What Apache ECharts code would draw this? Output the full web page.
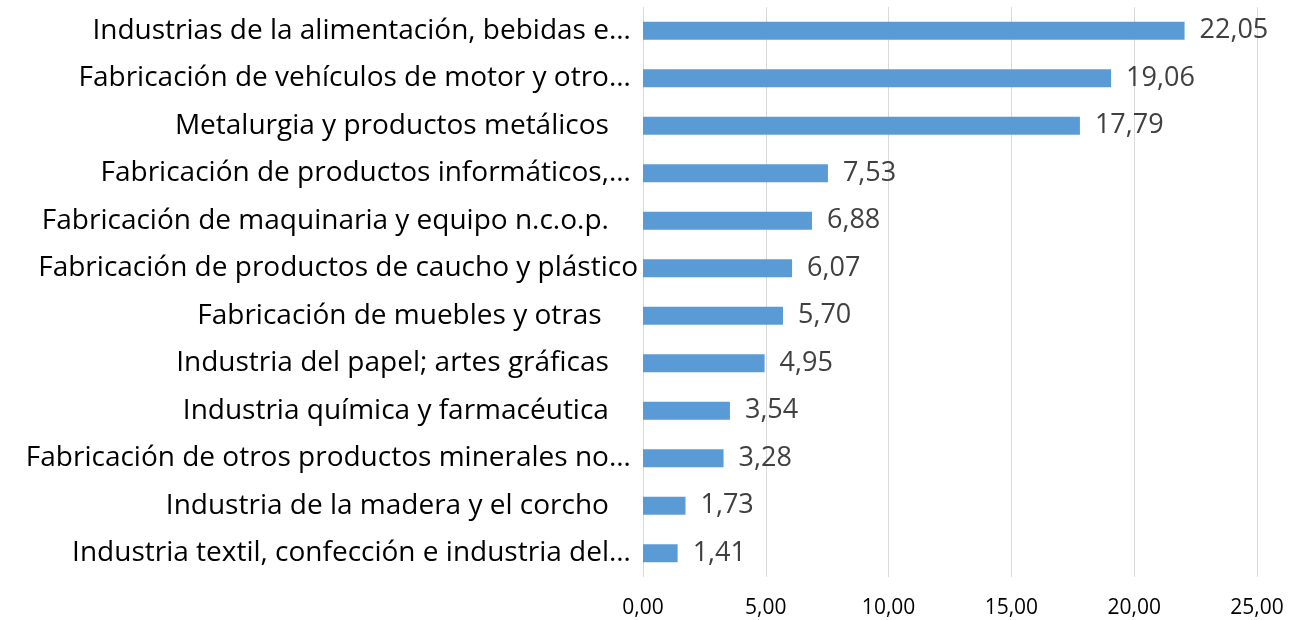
<!DOCTYPE html>
<html>
<head>
<meta charset="utf-8">
<script src="https://cdn.jsdelivr.net/npm/echarts@6/dist/echarts.min.js"></script>
<style>
  html, body { margin: 0; padding: 0; background: #fff; }
  #container { width: 1289px; height: 620px; }
</style>
</head>
<body>
<div id="container"></div>
<script>
// categorias (tal como aparecen, truncadas; los espacios finales imitan la alineacion original)
var sectores = [
    'Industrias de la alimentación, bebidas e… ',
    'Fabricación de vehículos de motor y otro… ',
    'Metalurgia y productos metálicos    ',
    'Fabricación de productos informáticos,… ',
    'Fabricación de maquinaria y equipo n.c.o.p.    ',
    'Fabricación de productos de caucho y plástico',
    'Fabricación de muebles y otras     ',
    'Industria del papel; artes gráficas    ',
    'Industria química y farmacéutica    ',
    'Fabricación de otros productos minerales no… ',
    'Industria de la madera y el corcho    ',
    'Industria textil, confección e industria del… '
];
// valores
var valores = [22.05, 19.06, 17.79, 7.53, 6.88, 6.07, 5.70, 4.95, 3.54, 3.28, 1.73, 1.41];
// marcas del eje
var ejeMin = 0, ejeMax = 25, ejePaso = 5;

function coma(v, d) {
    return Number(v).toFixed(d).replace('.', ',');
}

var dom = document.getElementById('container');
var myChart = echarts.init(dom);
var fuente = "'Open Sans', 'Noto Sans', sans-serif";
var option = {
    animation: false,
    grid: { left: 643, right: 32, top: 7, bottom: 43, containLabel: false },
    xAxis: {
        type: 'value',
        min: ejeMin,
        max: ejeMax,
        interval: ejePaso,
        axisLine: { show: false },
        axisTick: { show: false },
        splitLine: { lineStyle: { color: '#d9d9d9', width: 1 } },
        axisLabel: {
            formatter: function (v) { return coma(v, 2); },
            color: '#000',
            fontSize: 21,
            fontFamily: fuente,
            margin: 21
        }
    },
    yAxis: {
        type: 'category',
        inverse: true,
        data: sectores,
        axisLine: { show: false },
        axisTick: { show: false },
        axisLabel: {
            color: '#000',
            fontSize: 28,
            fontFamily: fuente,
            margin: 5
        }
    },
    series: [{
        type: 'bar',
        data: valores,
        barWidth: 18,
        itemStyle: { color: '#5b9bd5' },
        label: {
            show: true,
            position: 'right',
            distance: 15,
            color: '#404040',
            fontSize: 27,
            fontFamily: fuente,
            formatter: function (p) { return coma(p.value, 2); }
        }
    }]
};
myChart.setOption(option);
</script>
</body>
</html>
